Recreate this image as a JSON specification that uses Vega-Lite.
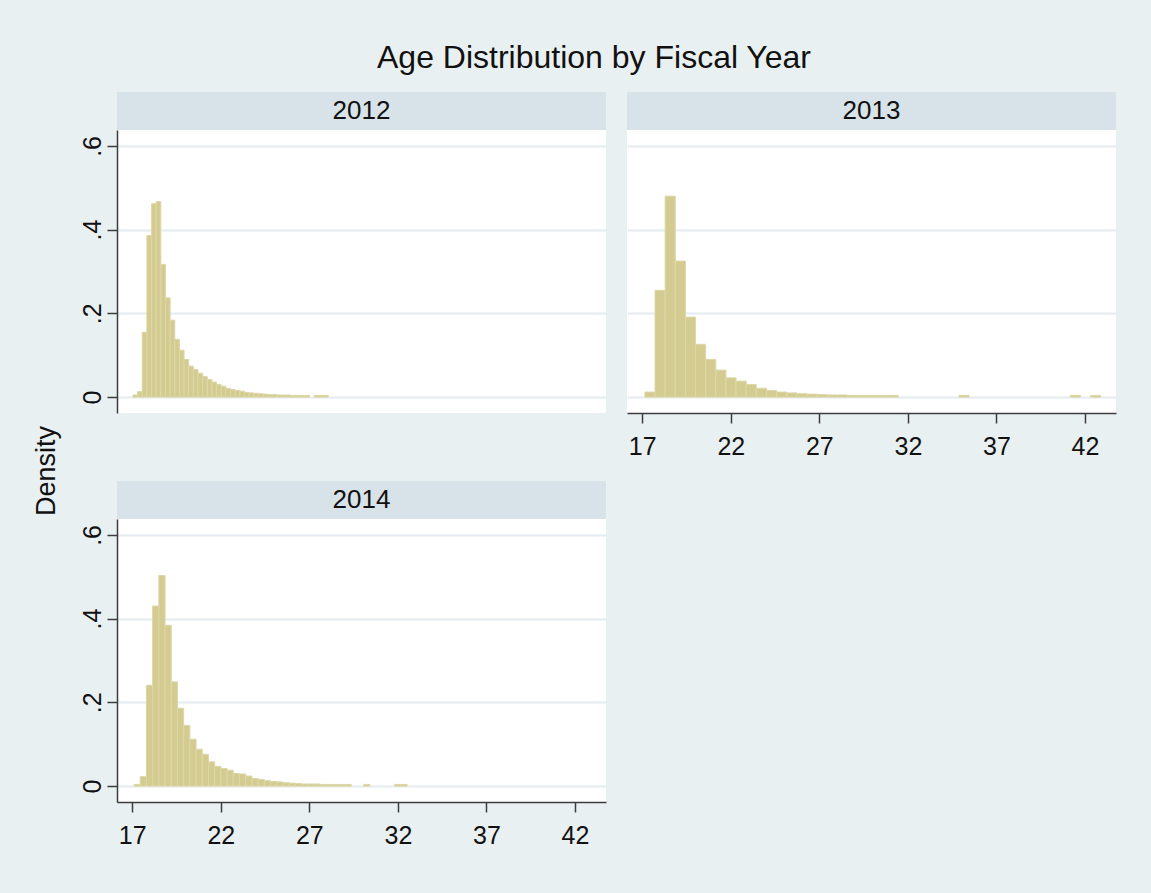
{
  "$schema": "https://vega.github.io/schema/vega-lite/v6.json",
  "background": "#e9f0f2",
  "padding": {"left": 32, "top": 42, "right": 35, "bottom": 45},
  "title": {
    "text": "Age Distribution by Fiscal Year",
    "font": "Liberation Sans",
    "fontSize": 32,
    "fontWeight": "normal",
    "color": "#111111",
    "anchor": "middle",
    "offset": 17,
    "dx": 20
  },
  "config": {
    "font": "Liberation Sans",
    "view": {"stroke": null},
    "axis": {
      "domainColor": "#3c3c3c",
      "domainWidth": 1.5,
      "tickColor": "#3c3c3c",
      "tickWidth": 1.5,
      "tickSize": 10,
      "labelFont": "Liberation Sans",
      "labelFontSize": 25,
      "labelColor": "#111111",
      "gridColor": "#e4ecef",
      "gridWidth": 2
    }
  },
  "datasets": {
    "hist": [
      {"year": 2012, "start": 17.040, "end": 17.302, "density": 0.005},
      {"year": 2012, "start": 17.302, "end": 17.565, "density": 0.013},
      {"year": 2012, "start": 17.565, "end": 17.827, "density": 0.155},
      {"year": 2012, "start": 17.827, "end": 18.090, "density": 0.386},
      {"year": 2012, "start": 18.090, "end": 18.352, "density": 0.462},
      {"year": 2012, "start": 18.352, "end": 18.614, "density": 0.467},
      {"year": 2012, "start": 18.614, "end": 18.877, "density": 0.317},
      {"year": 2012, "start": 18.877, "end": 19.139, "density": 0.237},
      {"year": 2012, "start": 19.139, "end": 19.402, "density": 0.184},
      {"year": 2012, "start": 19.402, "end": 19.664, "density": 0.138},
      {"year": 2012, "start": 19.664, "end": 19.926, "density": 0.112},
      {"year": 2012, "start": 19.926, "end": 20.189, "density": 0.090},
      {"year": 2012, "start": 20.189, "end": 20.451, "density": 0.074},
      {"year": 2012, "start": 20.451, "end": 20.714, "density": 0.066},
      {"year": 2012, "start": 20.714, "end": 20.976, "density": 0.057},
      {"year": 2012, "start": 20.976, "end": 21.238, "density": 0.049},
      {"year": 2012, "start": 21.238, "end": 21.501, "density": 0.042},
      {"year": 2012, "start": 21.501, "end": 21.763, "density": 0.036},
      {"year": 2012, "start": 21.763, "end": 22.026, "density": 0.030},
      {"year": 2012, "start": 22.026, "end": 22.288, "density": 0.026},
      {"year": 2012, "start": 22.288, "end": 22.550, "density": 0.021},
      {"year": 2012, "start": 22.550, "end": 22.813, "density": 0.018},
      {"year": 2012, "start": 22.813, "end": 23.075, "density": 0.016},
      {"year": 2012, "start": 23.075, "end": 23.338, "density": 0.014},
      {"year": 2012, "start": 23.338, "end": 23.600, "density": 0.011},
      {"year": 2012, "start": 23.600, "end": 23.862, "density": 0.010},
      {"year": 2012, "start": 23.862, "end": 24.125, "density": 0.009},
      {"year": 2012, "start": 24.125, "end": 24.387, "density": 0.008},
      {"year": 2012, "start": 24.387, "end": 24.650, "density": 0.007},
      {"year": 2012, "start": 24.650, "end": 24.912, "density": 0.006},
      {"year": 2012, "start": 24.912, "end": 25.174, "density": 0.006},
      {"year": 2012, "start": 25.174, "end": 25.437, "density": 0.005},
      {"year": 2012, "start": 25.437, "end": 25.699, "density": 0.005},
      {"year": 2012, "start": 25.699, "end": 25.962, "density": 0.005},
      {"year": 2012, "start": 25.962, "end": 26.224, "density": 0.004},
      {"year": 2012, "start": 26.224, "end": 26.486, "density": 0.004},
      {"year": 2012, "start": 26.486, "end": 26.749, "density": 0.004},
      {"year": 2012, "start": 26.749, "end": 27.011, "density": 0.004},
      {"year": 2012, "start": 27.274, "end": 27.536, "density": 0.004},
      {"year": 2012, "start": 27.536, "end": 27.798, "density": 0.004},
      {"year": 2012, "start": 27.798, "end": 28.061, "density": 0.004},

      {"year": 2013, "start": 17.150, "end": 17.722, "density": 0.012},
      {"year": 2013, "start": 17.722, "end": 18.294, "density": 0.255},
      {"year": 2013, "start": 18.294, "end": 18.866, "density": 0.480},
      {"year": 2013, "start": 18.866, "end": 19.438, "density": 0.325},
      {"year": 2013, "start": 19.438, "end": 20.010, "density": 0.191},
      {"year": 2013, "start": 20.010, "end": 20.582, "density": 0.126},
      {"year": 2013, "start": 20.582, "end": 21.154, "density": 0.090},
      {"year": 2013, "start": 21.154, "end": 21.726, "density": 0.0645},
      {"year": 2013, "start": 21.726, "end": 22.298, "density": 0.046},
      {"year": 2013, "start": 22.298, "end": 22.870, "density": 0.038},
      {"year": 2013, "start": 22.870, "end": 23.442, "density": 0.030},
      {"year": 2013, "start": 23.442, "end": 24.014, "density": 0.021},
      {"year": 2013, "start": 24.014, "end": 24.586, "density": 0.016},
      {"year": 2013, "start": 24.586, "end": 25.158, "density": 0.012},
      {"year": 2013, "start": 25.158, "end": 25.730, "density": 0.010},
      {"year": 2013, "start": 25.730, "end": 26.302, "density": 0.008},
      {"year": 2013, "start": 26.302, "end": 26.874, "density": 0.007},
      {"year": 2013, "start": 26.874, "end": 27.446, "density": 0.006},
      {"year": 2013, "start": 27.446, "end": 28.018, "density": 0.005},
      {"year": 2013, "start": 28.018, "end": 28.590, "density": 0.005},
      {"year": 2013, "start": 28.590, "end": 29.162, "density": 0.004},
      {"year": 2013, "start": 29.162, "end": 29.734, "density": 0.004},
      {"year": 2013, "start": 29.734, "end": 30.306, "density": 0.004},
      {"year": 2013, "start": 30.306, "end": 30.878, "density": 0.004},
      {"year": 2013, "start": 30.878, "end": 31.450, "density": 0.004},
      {"year": 2013, "start": 34.882, "end": 35.454, "density": 0.004},
      {"year": 2013, "start": 41.174, "end": 41.746, "density": 0.004},
      {"year": 2013, "start": 42.318, "end": 42.890, "density": 0.004},

      {"year": 2014, "start": 17.100, "end": 17.451, "density": 0.004},
      {"year": 2014, "start": 17.451, "end": 17.801, "density": 0.0225},
      {"year": 2014, "start": 17.801, "end": 18.152, "density": 0.241},
      {"year": 2014, "start": 18.152, "end": 18.502, "density": 0.430},
      {"year": 2014, "start": 18.502, "end": 18.853, "density": 0.503},
      {"year": 2014, "start": 18.853, "end": 19.203, "density": 0.384},
      {"year": 2014, "start": 19.203, "end": 19.554, "density": 0.249},
      {"year": 2014, "start": 19.554, "end": 19.904, "density": 0.186},
      {"year": 2014, "start": 19.904, "end": 20.255, "density": 0.145},
      {"year": 2014, "start": 20.255, "end": 20.605, "density": 0.112},
      {"year": 2014, "start": 20.605, "end": 20.956, "density": 0.088},
      {"year": 2014, "start": 20.956, "end": 21.306, "density": 0.076},
      {"year": 2014, "start": 21.306, "end": 21.657, "density": 0.058},
      {"year": 2014, "start": 21.657, "end": 22.007, "density": 0.047},
      {"year": 2014, "start": 22.007, "end": 22.358, "density": 0.042},
      {"year": 2014, "start": 22.358, "end": 22.708, "density": 0.038},
      {"year": 2014, "start": 22.708, "end": 23.059, "density": 0.030},
      {"year": 2014, "start": 23.059, "end": 23.409, "density": 0.029},
      {"year": 2014, "start": 23.409, "end": 23.760, "density": 0.024},
      {"year": 2014, "start": 23.760, "end": 24.110, "density": 0.018},
      {"year": 2014, "start": 24.110, "end": 24.461, "density": 0.016},
      {"year": 2014, "start": 24.461, "end": 24.811, "density": 0.013},
      {"year": 2014, "start": 24.811, "end": 25.162, "density": 0.011},
      {"year": 2014, "start": 25.162, "end": 25.512, "density": 0.010},
      {"year": 2014, "start": 25.512, "end": 25.863, "density": 0.008},
      {"year": 2014, "start": 25.863, "end": 26.213, "density": 0.007},
      {"year": 2014, "start": 26.213, "end": 26.564, "density": 0.006},
      {"year": 2014, "start": 26.564, "end": 26.914, "density": 0.005},
      {"year": 2014, "start": 26.914, "end": 27.265, "density": 0.005},
      {"year": 2014, "start": 27.265, "end": 27.615, "density": 0.005},
      {"year": 2014, "start": 27.615, "end": 27.966, "density": 0.004},
      {"year": 2014, "start": 27.966, "end": 28.316, "density": 0.004},
      {"year": 2014, "start": 28.316, "end": 28.667, "density": 0.004},
      {"year": 2014, "start": 28.667, "end": 29.017, "density": 0.004},
      {"year": 2014, "start": 29.017, "end": 29.368, "density": 0.004},
      {"year": 2014, "start": 30.069, "end": 30.419, "density": 0.004},
      {"year": 2014, "start": 31.821, "end": 32.171, "density": 0.004},
      {"year": 2014, "start": 32.171, "end": 32.522, "density": 0.004}
    ]
  },
  "spacing": 18,
  "hconcat": [
    {
      "width": 30,
      "height": 758,
      "data": {"values": [{"label": "Density"}]},
      "mark": {"type": "text", "angle": 270, "fontSize": 27, "font": "Liberation Sans", "color": "#111111", "align": "center", "baseline": "middle"},
      "encoding": {"text": {"field": "label"}},
      "view": {"fill": null, "stroke": null}
    },
    {
      "spacing": 22,
      "vconcat": [
        {
          "spacing": 21,
          "hconcat": [
            {
              "bounds": "flush",
              "spacing": 0,
              "vconcat": [
                {
                  "width": 489,
                  "height": 38,
                  "data": {"values": [{"label": "2012"}]},
                  "mark": {"type": "text", "fontSize": 26, "font": "Liberation Sans", "color": "#111111"},
                  "encoding": {"text": {"field": "label"}},
                  "view": {"fill": "#d8e3e9", "stroke": null}
                },
                {
                  "width": 489,
                  "height": 283,
                  "data": {"name": "hist"},
                  "transform": [{"filter": "datum.year == 2012"}],
                  "mark": {"type": "bar", "fill": "#d3cb90", "stroke": "#ddd7a8", "strokeWidth": 1},
                  "encoding": {
                    "x": {"field": "start", "type": "quantitative", "scale": {"domain": [16.14, 43.75], "nice": false, "zero": false}, "axis": null},
                    "x2": {"field": "end"},
                    "y": {"field": "density", "type": "quantitative", "title": null,
                      "scale": {"domain": [-0.038, 0.638], "nice": false, "zero": false},
                      "axis": {"values": [0, 0.2, 0.4, 0.6], "grid": true, "labelAngle": 270, "labelAlign": "center", "labelBaseline": "bottom", "labelPadding": 2, "labelFlush": false, "labelExpr": "datum.value == 0 ? '0' : '.' + round(datum.value * 10)"}},
                    "y2": {"datum": 0}
                  },
                  "view": {"fill": "#ffffff", "stroke": null}
                }
              ]
            },
            {
              "bounds": "flush",
              "spacing": 0,
              "vconcat": [
                {
                  "width": 489,
                  "height": 38,
                  "data": {"values": [{"label": "2013"}]},
                  "mark": {"type": "text", "fontSize": 26, "font": "Liberation Sans", "color": "#111111"},
                  "encoding": {"text": {"field": "label"}},
                  "view": {"fill": "#d8e3e9", "stroke": null}
                },
                {
                  "width": 489,
                  "height": 283,
                  "data": {"name": "hist"},
                  "transform": [{"filter": "datum.year == 2013"}],
                  "mark": {"type": "bar", "fill": "#d3cb90", "stroke": "#ddd7a8", "strokeWidth": 1},
                  "encoding": {
                    "x": {"field": "start", "type": "quantitative", "title": null,
                      "scale": {"domain": [16.14, 43.75], "nice": false, "zero": false},
                      "axis": {"values": [17, 22, 27, 32, 37, 42], "grid": false, "labelPadding": 11, "labelFlush": false, "labelOverlap": false}},
                    "x2": {"field": "end"},
                    "y": {"field": "density", "type": "quantitative", "title": null,
                      "scale": {"domain": [-0.038, 0.638], "nice": false, "zero": false},
                      "axis": {"values": [0, 0.2, 0.4, 0.6], "grid": true, "labels": false, "ticks": false, "domain": false}},
                    "y2": {"datum": 0}
                  },
                  "view": {"fill": "#ffffff", "stroke": null}
                }
              ]
            }
          ]
        },
        {
          "bounds": "flush",
          "spacing": 0,
          "vconcat": [
            {
              "width": 489,
              "height": 38,
              "data": {"values": [{"label": "2014"}]},
              "mark": {"type": "text", "fontSize": 26, "font": "Liberation Sans", "color": "#111111"},
              "encoding": {"text": {"field": "label"}},
              "view": {"fill": "#d8e3e9", "stroke": null}
            },
            {
              "width": 489,
              "height": 283,
              "data": {"name": "hist"},
              "transform": [{"filter": "datum.year == 2014"}],
              "mark": {"type": "bar", "fill": "#d3cb90", "stroke": "#ddd7a8", "strokeWidth": 1},
              "encoding": {
                "x": {"field": "start", "type": "quantitative", "title": null,
                  "scale": {"domain": [16.14, 43.75], "nice": false, "zero": false},
                  "axis": {"values": [17, 22, 27, 32, 37, 42], "grid": false, "labelPadding": 11, "labelFlush": false, "labelOverlap": false}},
                "x2": {"field": "end"},
                "y": {"field": "density", "type": "quantitative", "title": null,
                  "scale": {"domain": [-0.038, 0.638], "nice": false, "zero": false},
                  "axis": {"values": [0, 0.2, 0.4, 0.6], "grid": true, "labelAngle": 270, "labelAlign": "center", "labelBaseline": "bottom", "labelPadding": 2, "labelFlush": false, "labelExpr": "datum.value == 0 ? '0' : '.' + round(datum.value * 10)"}},
                "y2": {"datum": 0}
              },
              "view": {"fill": "#ffffff", "stroke": null}
            }
          ]
        }
      ]
    }
  ]
}
